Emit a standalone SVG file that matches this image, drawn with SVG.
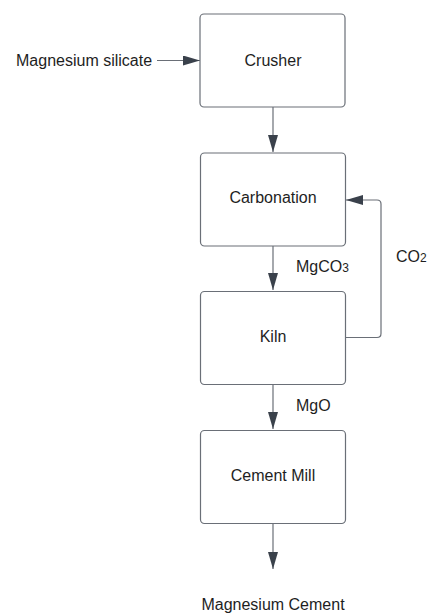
<svg xmlns="http://www.w3.org/2000/svg" width="433" height="615" viewBox="0 0 433 615">
<defs>
<style>
.box{fill:#fff;stroke:#6a6f77;stroke-width:1.2}
.lbl{font-family:"Liberation Sans",Arial,sans-serif;font-size:16px;fill:#1e1e1e}
.mid{text-anchor:middle}
.con{fill:none;stroke:#6a6f77;stroke-width:1.2}
</style>
<marker id="ah" viewBox="0 0 17 10" refX="17" refY="5" markerWidth="17" markerHeight="10" markerUnits="userSpaceOnUse" orient="auto">
<path d="M0,0 L17,5 L0,10 Z" fill="#3a414b"/>
</marker>
</defs>
<rect width="433" height="615" fill="#fff"/>
<g id="connectors">
<path class="con" d="M157,60.5 H200" marker-end="url(#ah)"/>
<path class="con" d="M273,107 V152" marker-end="url(#ah)"/>
<path class="con" d="M273,246 V290" marker-end="url(#ah)"/>
<path class="con" d="M273,384 V429" marker-end="url(#ah)"/>
<path class="con" d="M273,523 V569" marker-end="url(#ah)"/>
<path class="con" d="M345,337.5 H377 Q381,337.5 381,333.5 V204 Q381,200 377,200 H346" marker-end="url(#ah)"/>
</g>
<g id="crusher">
<rect class="box" x="200" y="14" width="145" height="93" rx="4"/>
<text class="lbl mid" x="273" y="66">Crusher</text>
</g>
<g id="carbonation">
<rect class="box" x="200.5" y="153" width="145" height="93" rx="4"/>
<text class="lbl mid" x="273" y="203">Carbonation</text>
</g>
<g id="kiln">
<rect class="box" x="200.5" y="291.5" width="145" height="93" rx="4"/>
<text class="lbl mid" x="273" y="342">Kiln</text>
</g>
<g id="cement-mill">
<rect class="box" x="200.5" y="430.5" width="145" height="93" rx="4"/>
<text class="lbl mid" x="273" y="481">Cement Mill</text>
</g>
<g id="labels">
<text class="lbl" x="16" y="66">Magnesium silicate</text>
<text class="lbl" x="296" y="271.5">MgCO<tspan font-size="12">3</tspan></text>
<text class="lbl" x="396" y="262">CO<tspan font-size="12">2</tspan></text>
<text class="lbl" x="296" y="410.5">MgO</text>
<text class="lbl mid" x="273" y="610">Magnesium Cement</text>
</g>
</svg>
